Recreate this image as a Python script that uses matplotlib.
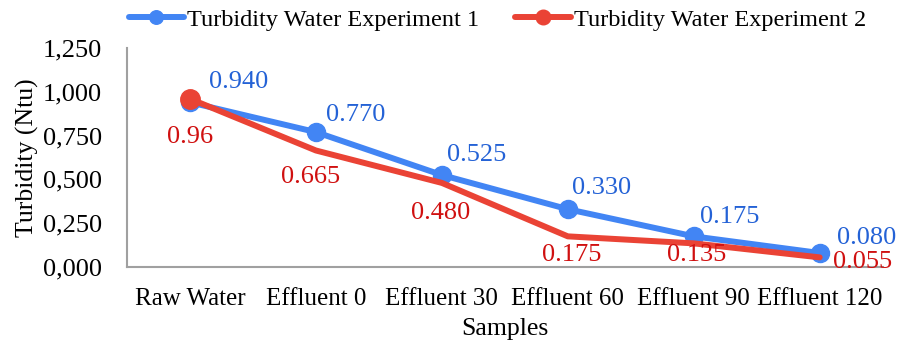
import numpy as np
import matplotlib
matplotlib.use('Agg')
from matplotlib import pyplot as plt
from matplotlib.ticker import FuncFormatter

samples = ['Raw Water', 'Effluent 0', 'Effluent 30', 'Effluent 60', 'Effluent 90', 'Effluent 120']
exp1 = [0.940, 0.770, 0.525, 0.330, 0.175, 0.080]
exp2 = [0.960, 0.665, 0.480, 0.175, 0.135, 0.055]
exp1_labels = ['0.940', '0.770', '0.525', '0.330', '0.175', '0.080']
exp2_labels = ['0.96', '0.665', '0.480', '0.175', '0.135', '0.055']

plt.rcParams['font.family'] = ['Liberation Serif', 'DejaVu Serif']
fs = 18.5

blue = '#4285f4'
red = '#ea4335'
blue_txt = '#2462d6'
red_txt = '#d01010'

fig = plt.figure(figsize=(8.97, 3.47), dpi=100)
ax = fig.add_axes([0.1416, 0.2305, 0.8424, 0.6312])

x = np.arange(len(samples))
ax.plot(x, exp1, color=blue, lw=4.3, marker='o', ms=13, solid_capstyle='round',
        label='Turbidity Water Experiment 1', zorder=3)
ax.plot(x, exp2, color=red, lw=4.3, marker='o', ms=14, markevery=[0], solid_capstyle='round',
        label='Turbidity Water Experiment 2', zorder=4)

# label offsets in pixels (centre of text relative to point)
blue_off = [(49, 20), (40, 17), (35, 20), (34, 21), (36, 19), (47, 15)]
red_off = [(0, -38), (-5, -27), (-1, -30), (4, -19), (3, -12), (43, -5)]
for i in range(len(samples)):
    ax.annotate(exp1_labels[i], (x[i], exp1[i]), xytext=blue_off[i], textcoords='offset pixels',
                ha='center', va='center', color=blue_txt, fontsize=fs + 0.5, zorder=5)
    ax.annotate(exp2_labels[i], (x[i], exp2[i]), xytext=red_off[i], textcoords='offset pixels',
                ha='center', va='center', color=red_txt, fontsize=fs + 0.5, zorder=5)

ax.set_xlim(-0.5, len(samples) - 0.5)
ax.set_ylim(0, 1.25)
ax.set_yticks(np.arange(0, 1.26, 0.25))
ax.yaxis.set_major_formatter(FuncFormatter(lambda v, p: f'{v:.3f}'.replace('.', ',')))
ax.set_xticks(x)
ax.set_xticklabels(samples)
ax.tick_params(axis='both', length=0)
ax.tick_params(axis='y', pad=18, labelsize=fs + 0.5)
ax.tick_params(axis='x', pad=15, labelsize=fs - 0.5)

for s in ['top', 'right']:
    ax.spines[s].set_visible(False)
for s in ['left', 'bottom']:
    ax.spines[s].set_color('#a0a0a0')
    ax.spines[s].set_linewidth(1.5)

ax.set_xlabel('Samples', fontsize=fs, labelpad=6)
ax.set_ylabel('Turbidity (Ntu)', fontsize=fs, labelpad=3)

ax.legend(loc='lower center', bbox_to_anchor=(0.49, 1.0), ncol=2, frameon=False,
          fontsize=17.5, handlelength=2.3, columnspacing=1.5, handletextpad=0.1,
          borderaxespad=0.3, markerscale=0.75)

plt.savefig('out.png', dpi=100)
